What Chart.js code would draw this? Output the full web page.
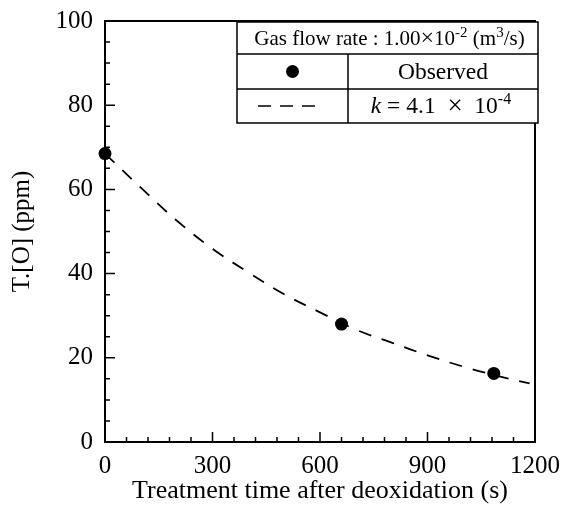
<!DOCTYPE html>
<html>
<head>
<meta charset="utf-8">
<script src="https://cdn.jsdelivr.net/npm/chart.js@4/dist/chart.umd.min.js"></script>
<style>
  html, body { margin: 0; padding: 0; background: #fff; }
  canvas { display: block; }
</style>
</head>
<body>
<canvas id="toChart" width="564" height="511"></canvas>
<script>
// measured total oxygen
const obsTime = [0, 660, 1085];
const obsTO = [68.5, 28.0, 16.3];

// calculated curve, k = 4.1e-4
const fitTime = [0, 100, 200, 300, 400, 500, 600, 700, 800, 900, 1000, 1100, 1185];
const fitTO = [68.5, 60.4, 52.6, 45.9, 40.3, 35.1, 30.8, 26.7, 23.6, 20.6, 17.9, 15.6, 13.9];

const xTicks = [0, 300, 600, 900, 1200];
const yTicks = [0, 20, 40, 60, 80, 100];
const xMinorStep = 60;
const yMinorStep = 5;

const serif = '"Liberation Serif", "Times New Roman", serif';

function toPoints(xs, ys) {
  return xs.map((x, i) => ({ x: x, y: ys[i] }));
}

// draws a row of text runs (for superscripts / italics) centered at cx
function drawRuns(ctx, runs, cx, cy) {
  let total = 0;
  runs.forEach(r => { ctx.font = r.font; r.w = ctx.measureText(r.text).width; total += r.w; });
  let x = cx - total / 2;
  ctx.textAlign = 'left';
  ctx.textBaseline = 'middle';
  runs.forEach(r => {
    ctx.font = r.font;
    ctx.fillText(r.text, x, cy + (r.dy || 0));
    x += r.w;
  });
}

const framePlugin = {
  id: 'frame',
  beforeDraw(chart) {
    const ctx = chart.ctx;
    ctx.save();
    ctx.fillStyle = '#fff';
    ctx.fillRect(0, 0, chart.width, chart.height);
    ctx.restore();
  },
  afterDraw(chart) {
    const ctx = chart.ctx;
    const a = chart.chartArea;
    const xs = chart.scales.x, ys = chart.scales.y;
    ctx.save();
    ctx.strokeStyle = '#000';
    ctx.lineWidth = 2;
    // top and right edges of the box
    ctx.beginPath();
    ctx.moveTo(a.left, a.top);
    ctx.lineTo(a.right, a.top);
    ctx.lineTo(a.right, a.bottom);
    ctx.stroke();

    // inward tick marks
    ctx.lineWidth = 1.5;
    ctx.beginPath();
    for (let v = xs.min; v <= xs.max; v += xMinorStep) {
      const px = xs.getPixelForValue(v);
      const len = xTicks.includes(v) ? 10 : 5;
      ctx.moveTo(px, a.bottom);
      ctx.lineTo(px, a.bottom - len);
    }
    for (let v = ys.min; v <= ys.max; v += yMinorStep) {
      const py = ys.getPixelForValue(v);
      const len = yTicks.includes(v) ? 10 : 5;
      ctx.moveTo(a.left, py);
      ctx.lineTo(a.left + len, py);
    }
    ctx.stroke();

    // legend table in the upper right corner
    const L = 237, R = a.right + 3, T = a.top + 1;
    const r1 = T + 32, r2 = r1 + 35, B = r2 + 34, mid = 348;
    ctx.fillStyle = '#fff';
    ctx.fillRect(L, T, R - L, B - T);
    ctx.lineWidth = 1.5;
    ctx.strokeRect(L, T, R - L, B - T);
    ctx.beginPath();
    ctx.moveTo(L, r1); ctx.lineTo(R, r1);
    ctx.moveTo(L, r2); ctx.lineTo(R, r2);
    ctx.moveTo(mid, r1); ctx.lineTo(mid, B);
    ctx.stroke();

    ctx.fillStyle = '#000';
    const f = '21px ' + serif;
    const sup = '15px ' + serif;
    drawRuns(ctx, [
      { text: 'Gas flow rate : 1.00', font: f },
      { text: '\u00d7', font: '24px ' + serif },
      { text: '10', font: f },
      { text: '-2', font: sup, dy: -6 },
      { text: ' (m', font: f },
      { text: '3', font: sup, dy: -6 },
      { text: '/s)', font: f }
    ], (L + R) / 2 + 2, (T + r1) / 2 + 1);

    const f2 = '23.5px ' + serif;
    const sup2 = '16px ' + serif;
    // marker sample
    ctx.beginPath();
    ctx.arc((L + mid) / 2, (r1 + r2) / 2, 6.5, 0, Math.PI * 2);
    ctx.fill();
    drawRuns(ctx, [{ text: 'Observed', font: f2 }], (mid + R) / 2, (r1 + r2) / 2 + 1);

    // dashed line sample
    ctx.lineWidth = 1.5;
    ctx.setLineDash([13, 9]);
    ctx.beginPath();
    ctx.moveTo(258, (r2 + B) / 2);
    ctx.lineTo(315, (r2 + B) / 2);
    ctx.stroke();
    ctx.setLineDash([]);
    drawRuns(ctx, [
      { text: 'k', font: 'italic ' + f2 },
      { text: ' = 4.1  ', font: f2 },
      { text: '\u00d7', font: '27px ' + serif },
      { text: '  10', font: f2 },
      { text: '-4', font: sup2, dy: -7 }
    ], (mid + R) / 2 - 2, (r2 + B) / 2 + 1);
    ctx.restore();
  }
};

const ctx = document.getElementById('toChart');
new Chart(ctx, {
  type: 'scatter',
  data: {
    datasets: [
      {
        label: 'Observed',
        data: toPoints(obsTime, obsTO),
        showLine: false,
        clip: false,
        pointRadius: 6.5,
        pointBackgroundColor: '#000',
        pointBorderWidth: 0
      },
      {
        label: 'k = 4.1e-4',
        data: toPoints(fitTime, fitTO),
        showLine: true,
        borderColor: '#000',
        borderWidth: 1.8,
        borderDash: [13, 11],
        pointRadius: 0,
        tension: 0.4
      }
    ]
  },
  plugins: [framePlugin],
  options: {
    responsive: false,
    animation: false,
    layout: { padding: { top: 21, right: 29, left: 0, bottom: 0 } },
    plugins: { legend: { display: false }, tooltip: { enabled: false } },
    scales: {
      x: {
        type: 'linear',
        min: 0,
        max: 1200,
        afterBuildTicks: s => { s.ticks = xTicks.map(v => ({ value: v })); },
        afterFit: s => { s.height = 69; },
        grid: { display: false },
        border: { display: true, color: '#000', width: 2 },
        ticks: { color: '#000', padding: 1, maxRotation: 0, callback: v => String(v), font: { family: serif, size: 25 } },
        title: {
          display: true,
          text: 'Treatment time after deoxidation (s)',
          color: '#000',
          font: { family: serif, size: 26 },
          padding: { top: 0, bottom: 4 }
        }
      },
      y: {
        min: 0,
        max: 100,
        afterBuildTicks: s => { s.ticks = yTicks.map(v => ({ value: v })); },
        afterFit: s => { s.width = 105; },
        grid: { display: false },
        border: { display: true, color: '#000', width: 2 },
        ticks: { color: '#000', padding: 4, callback: v => String(v), font: { family: serif, size: 25 } },
        title: {
          display: true,
          text: 'T.[O] (ppm)',
          color: '#000',
          font: { family: serif, size: 25 },
          padding: { top: 7, bottom: 0 }
        }
      }
    }
  }
});
</script>
</body>
</html>
